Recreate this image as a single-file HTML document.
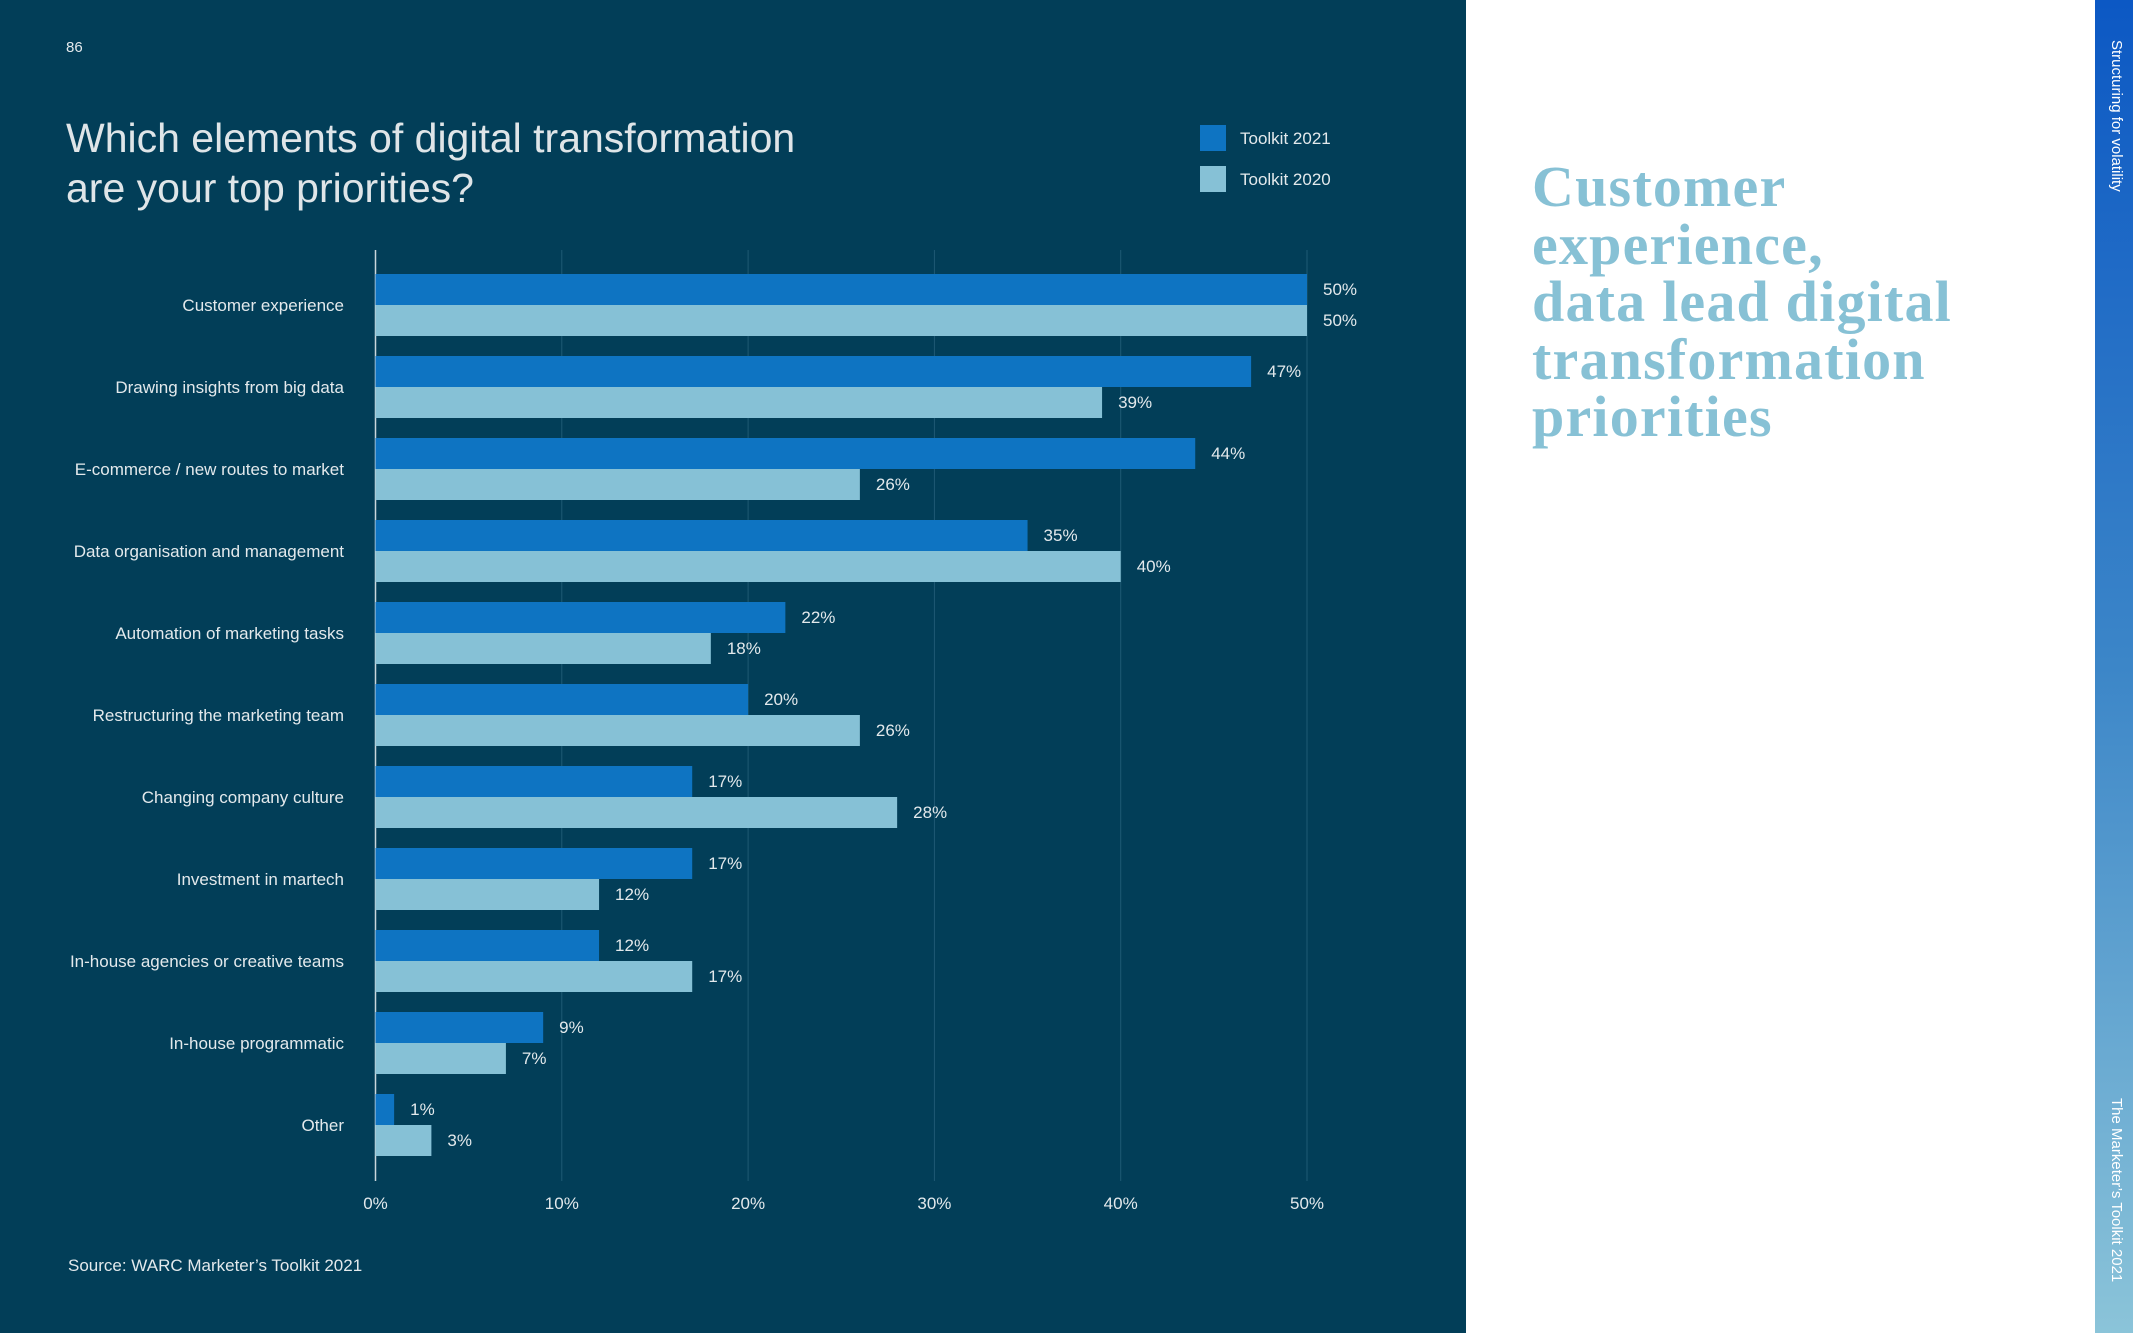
<!DOCTYPE html>
<html><head><meta charset="utf-8"><style>
html,body{margin:0;padding:0;}
body{width:2133px;height:1333px;position:relative;overflow:hidden;background:#fff;font-family:"Liberation Sans",sans-serif;}
#left{position:absolute;left:0;top:0;width:1466px;height:1333px;background:#023e58;}
#stripe{position:absolute;left:2095px;top:0;width:38px;height:1333px;background:linear-gradient(#0c58c4,#3c86c8 50%,#8bc4d9);}
.vt{position:absolute;color:#fff;font-size:15px;white-space:nowrap;transform:rotate(90deg);transform-origin:left top;}
#heading{position:absolute;left:1532px;top:158px;font-family:"Liberation Serif",serif;font-weight:bold;font-size:58px;line-height:57.5px;color:#87c1d5;letter-spacing:1.2px;}
</style></head><body>
<div id="left">
<svg id="chart" width="1466" height="1333"></svg>
</div>
<div id="heading">Customer<br>experience,<br>data lead digital<br>transformation<br>priorities</div>
<div id="stripe">
<div class="vt" style="left:30px;top:40px;">Structuring for volatility</div>
<div class="vt" style="left:30px;top:1098px;">The Marketer’s Toolkit 2021</div>
</div>
<script>
const categories=["Customer experience","Drawing insights from big data","E-commerce / new routes to market","Data organisation and management","Automation of marketing tasks","Restructuring the marketing team","Changing company culture","Investment in martech","In-house agencies or creative teams","In-house programmatic","Other"];
const values2021=[50,47,44,35,22,20,17,17,12,9,1];
const values2020=[50,39,26,40,18,26,28,12,17,7,3];
const ticks=[0,10,20,30,40,50];
const seriesNames=["Toolkit 2021","Toolkit 2020"];

const NS="http://www.w3.org/2000/svg";
const svg=document.getElementById('chart');
const x0=375.5,xUnit=(1307-375.5)/50,top0=274,pitch=82,bh=31;
const xs=v=>x0+v*xUnit;
const ys=i=>top0+i*pitch;
function mk(tag,attrs,text){const e=document.createElementNS(NS,tag);for(const k in attrs)e.setAttribute(k,attrs[k]);if(text!=null)e.textContent=text;svg.appendChild(e);return e;}
const txt="#e3e9ec";
let t=mk('text',{x:66,y:52,fill:txt,'font-size':15},"86");


t=mk('text',{x:66,y:152,fill:"#dfe5e8",'font-size':41},"Which elements of digital transformation");


t=mk('text',{x:66,y:202,fill:"#dfe5e8",'font-size':41},"are your top priorities?");


const legCols=["#0e74c2","#86c1d6"];
seriesNames.forEach((n,k)=>{
 const r=mk('rect',{x:1200,y:125+k*41,width:26,height:26,fill:legCols[k]});
 
 
 const l=mk('text',{x:1240,y:144+k*41,fill:txt,'font-size':17},n);
 
 
});
ticks.forEach(v=>{
 if(v>0){const g=mk('line',{x1:xs(v),x2:xs(v),y1:250,y2:1181,stroke:"#1f5a74",'stroke-width':1});
 
 }
 const l=mk('text',{x:xs(v),y:1209,fill:txt,'font-size':17,'text-anchor':'middle'},v+"%");
 
 
});
const ax=mk('line',{x1:x0,x2:x0,y1:250,y2:1181,stroke:"#c9d6dc",'stroke-width':1.5});


categories.forEach((c,i)=>{
 const y=ys(i);
 const l=mk('text',{x:344,y:y+bh+6,fill:txt,'font-size':17,'text-anchor':'end'},c);
 
 
 [values2021,values2020].forEach((arr,k)=>{
  const v=arr[i];
  const b=mk('rect',{x:x0,y:y+k*bh,width:xs(v)-x0,height:bh,fill:legCols[k]});
  
  
  const vl=mk('text',{x:xs(v)+16,y:y+k*bh+21,fill:txt,'font-size':17},v+"%");
  
  
 });
});
t=mk('text',{x:68,y:1271,fill:txt,'font-size':17},"Source: WARC Marketer’s Toolkit 2021");


</script>
</body></html>
